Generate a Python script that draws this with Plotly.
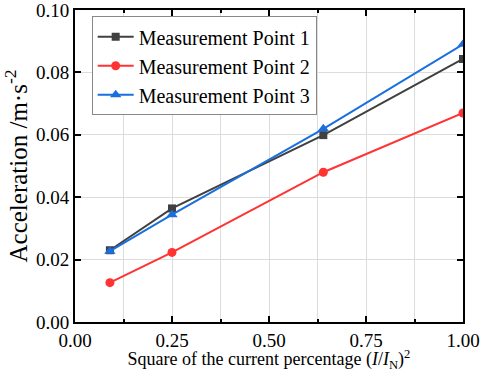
import plotly.graph_objects as go

x_vals = [0.09, 0.25, 0.64, 1.0]
mp1 = [0.0230, 0.0364, 0.0599, 0.0843]
mp2 = [0.0126, 0.0223, 0.0480, 0.0670]
mp3 = [0.0227, 0.0344, 0.0619, 0.0890]
names = ["Measurement Point 1", "Measurement Point 2", "Measurement Point 3"]
colors = ["#404040", "#ff3333", "#1a6fdf"]
symbols = ["square", "circle", "triangle-up"]
msizes = [8, 9, 10]

fig = go.Figure()
for y, n, c, s, ms in zip([mp1, mp2, mp3], names, colors, symbols, msizes):
    fig.add_trace(go.Scatter(x=x_vals, y=y, name=n, mode="lines+markers",
                             line=dict(color=c, width=2),
                             marker=dict(symbol=s, size=ms, color=c)))

font_fam = "Liberation Serif, Times New Roman, serif"
fig.update_layout(
    width=484, height=372,
    margin=dict(l=75, r=21, t=10, b=50),
    paper_bgcolor="white", plot_bgcolor="white",
    font=dict(family=font_fam, color="black"),
    showlegend=True,
    legend=dict(x=0.043, y=0.98, xanchor="left", yanchor="top",
                bgcolor="white", bordercolor="#888888", borderwidth=1,
                font=dict(size=20, family=font_fam), tracegroupgap=0,
                itemwidth=36),
)
fig.update_xaxes(range=[0, 1.0], tickvals=[0, 0.25, 0.5, 0.75, 1.0],
                 ticktext=["0.00", "0.25", "0.50", "0.75", "1.00"],
                 automargin=False, ticklabeloverflow="allow",
                 showline=True, linecolor="black", linewidth=2, mirror="allticks",
                 ticks="inside", ticklen=6, tickwidth=1.5, tickcolor="black",
                 showgrid=True, gridcolor="#dcdcdc", gridwidth=1, zeroline=False,
                 minor=dict(tickvals=[0.125, 0.375, 0.625, 0.875], ticks="inside",
                            ticklen=3, tickcolor="black", showgrid=True,
                            gridcolor="#dcdcdc"),
                 tickfont=dict(size=19),
                 title=dict(text="Square of the current percentage (<i>I</i>/<i>I</i><sub>N</sub>)<sup>2</sup>",
                            font=dict(size=18)))
fig.update_yaxes(range=[0, 0.10], tickvals=[0, 0.02, 0.04, 0.06, 0.08, 0.10],
                 ticktext=["0.00", "0.02", "0.04", "0.06", "0.08", "0.10"],
                 automargin=False, ticklabeloverflow="allow",
                 showline=True, linecolor="black", linewidth=2, mirror="allticks",
                 ticks="inside", ticklen=6, tickwidth=1.5, tickcolor="black",
                 showgrid=True, gridcolor="#dcdcdc", gridwidth=1, zeroline=False,
                 tickfont=dict(size=19),
                 title=dict(text="Acceleration /m·s<sup>-2</sup>", font=dict(size=25)))

fig.write_html("out.html", config={"displayModeBar": False},
               post_script="document.body.style.margin='0';")
